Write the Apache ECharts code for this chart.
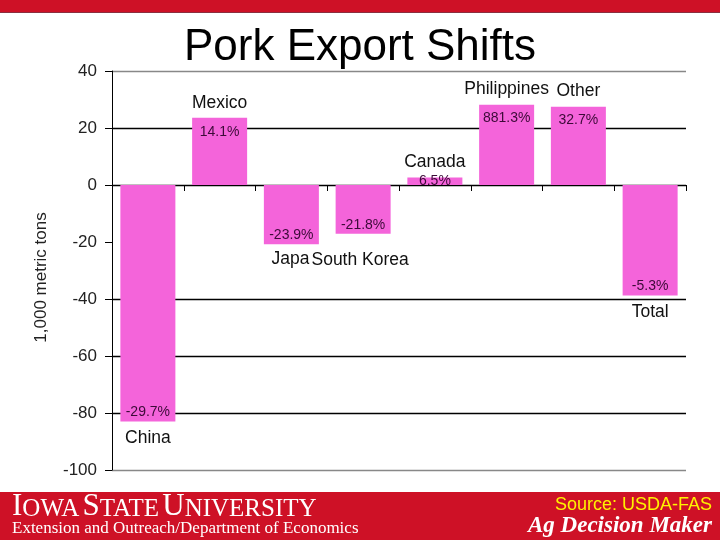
<!DOCTYPE html>
<html><head><meta charset="utf-8">
<script src="https://cdn.jsdelivr.net/npm/echarts@6/dist/echarts.min.js"></script>
<style>html,body{margin:0;padding:0;background:#fff}#c{width:720px;height:540px}</style>
</head><body><div id="c"></div>
<script>
var categories = ['China','Mexico','Japan','South Korea','Canada','Philippines','Other','Total'];
var values = [-83.0, 23.6, -20.8, -17.1, 2.6, 28.2, 27.5, -38.8];
var pctLabels = ['-29.7%','14.1%','-23.9%','-21.8%','6.5%','881.3%','32.7%','-5.3%'];
var yTicks = [-100,-80,-60,-40,-20,0,20,40];

var chart = echarts.init(document.getElementById('c'));
var pink = '#F464DA';
var mainData = values.map(function(v,i){
  var pos = v >= 0 ? 'insideTop' : 'insideBottom';
  var dist = v >= 0 ? 7 : 2;
  if (Math.abs(v) < 5) { pos = 'inside'; dist = 0; }
  return {value:v, label:{position: pos, distance: dist, formatter: pctLabels[i]}};
});
var nameData = values.map(function(v,i){
  var lab = {position: v>=0 ? 'top' : 'bottom', distance: v>=0 ? 6 : 8, formatter: categories[i]};
  if (categories[i]==='Japan') { lab.offset = [4,-2]; }
  if (categories[i]==='South Korea') { lab.backgroundColor = '#fff'; lab.padding = [1,2,0,2]; lab.offset = [-3,8]; }
  return {value:v, label:lab};
});
chart.setOption({
  animation:false,
  title:{text:'Pork Export Shifts', left:'center', top:21, textStyle:{fontFamily:'Liberation Sans', fontSize:44, fontWeight:'normal', color:'#000'}},
  grid:{left:112, right:34, top:71, bottom:70, containLabel:false},
  xAxis:{type:'category', data:categories, position:'bottom',
    axisLine:{onZero:true, lineStyle:{color:'#000', width:1}},
    axisTick:{show:true, interval:0, inside:false, length:6, alignWithLabel:false, lineStyle:{color:'#000'}},
    axisLabel:{show:false, interval:0}, splitLine:{show:false}},
  yAxis:{type:'value', min:yTicks[0], max:yTicks[yTicks.length-1], interval:20,
    name:'1,000 metric tons', nameLocation:'middle', nameGap:62, nameRotate:90,
    nameTextStyle:{fontFamily:'Liberation Sans', fontSize:17, color:'#222', padding:[0,14,0,0]},
    axisLine:{show:true, lineStyle:{color:'#000'}},
    axisTick:{show:true, length:7, lineStyle:{color:'#000'}},
    axisLabel:{fontFamily:'Liberation Sans', fontSize:17, color:'#222', margin:15},
    splitLine:{show:true, lineStyle:{width:1.3, color:['#888','#000','#000','#000','rgba(0,0,0,0)','#000','#000','#888']}}},
  series:[
    {type:'bar', data:mainData, barWidth:55, itemStyle:{color:pink},
     label:{show:true, fontFamily:'Liberation Sans', fontSize:14, color:'#3c0a38'}, z:2},
    {type:'bar', data:nameData, barWidth:55, barGap:'-100%', itemStyle:{color:'rgba(0,0,0,0)'},
     label:{show:true, fontFamily:'Liberation Sans', fontSize:17.5, color:'#111'}, z:3, silent:true}
  ],
  graphic:[
    {type:'rect', shape:{x:0,y:0,width:720,height:12}, style:{fill:'#CE1126'}},
    {type:'rect', shape:{x:0,y:12,width:720,height:1}, style:{fill:'#8a3040'}},
    {type:'rect', shape:{x:0,y:492,width:720,height:48}, style:{fill:'#CE1126'}},
    {type:'text', left:12, top:491, style:{
      text:'{b|I}{s|OWA} {b|S}{s|TATE} {b|U}{s|NIVERSITY}',
      rich:{b:{fontFamily:'Liberation Serif', fontSize:31, fill:'#fff', verticalAlign:'bottom'},
            s:{fontFamily:'Liberation Serif', fontSize:25, fill:'#fff', verticalAlign:'bottom'}}}},
    {type:'text', left:12, top:520, style:{text:'Extension and Outreach/Department of Economics', fontFamily:'Liberation Serif', fontSize:17, fill:'#fff'}},
    {type:'text', right:8, top:496, style:{text:'Source: USDA-FAS', fontFamily:'Liberation Sans', fontSize:18, fill:'#FFF200'}},
    {type:'text', right:8, top:515, style:{text:'Ag Decision Maker', fontFamily:'Liberation Serif', fontSize:23, fontWeight:'bold', fontStyle:'italic', fill:'#fff'}}
  ]
});
</script></body></html>
